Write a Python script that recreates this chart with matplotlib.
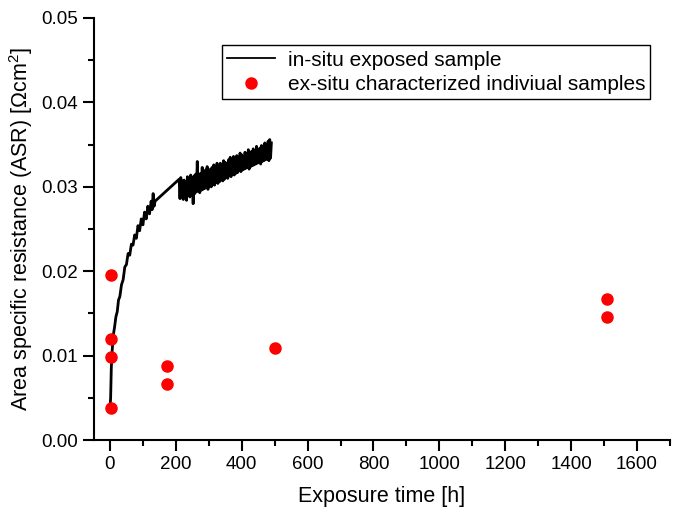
import numpy as np
import matplotlib
matplotlib.use("Agg")
import matplotlib.pyplot as plt

plt.rcParams['font.family'] = ['Liberation Sans', 'DejaVu Sans']
plt.rcParams['mathtext.fontset'] = 'custom'
plt.rcParams['mathtext.rm'] = 'Liberation Sans'
plt.rcParams['mathtext.it'] = 'Liberation Sans'

# ---- in-situ curve, early part (0-137 h) ----
t_early = [0, 2, 4, 6, 8, 10, 14, 18, 22, 26, 30, 35, 40, 45, 50, 55, 60, 65, 70,
           75, 80, 85, 90, 95, 100, 105, 110, 115, 120, 125, 128, 131, 134, 137]
asr_early = [0.0037, 0.0050, 0.0085, 0.0102, 0.0113, 0.0124, 0.0134, 0.0146, 0.0152,
             0.0166, 0.0170, 0.0184, 0.0190, 0.0205, 0.0208, 0.0221, 0.0219, 0.0232,
             0.0231, 0.0243, 0.0239, 0.0254, 0.0248, 0.0262, 0.0255, 0.0270, 0.0262,
             0.0277, 0.0268, 0.0283, 0.0273, 0.0292, 0.0277, 0.0283]

# ---- in-situ curve, later noisy part (210-490 h, logged every 2.5 h) ----
asr_late = [
    0.0309, 0.0286, 0.0311, 0.0287, 0.0307, 0.0285, 0.0308, 0.0289, 0.0306, 0.0284,
    0.0312, 0.0290, 0.0310, 0.0288, 0.0314, 0.0291, 0.0311, 0.0280, 0.0313, 0.0292,
    0.0315, 0.0294, 0.0330, 0.0295, 0.0314, 0.0293, 0.0316, 0.0296, 0.0323, 0.0297,
    0.0318, 0.0298, 0.0320, 0.0299, 0.0324, 0.0297, 0.0319, 0.0301, 0.0321, 0.0300,
    0.0323, 0.0303, 0.0326, 0.0302, 0.0322, 0.0305, 0.0328, 0.0304, 0.0324, 0.0306,
    0.0328, 0.0308, 0.0326, 0.0307, 0.0331, 0.0309, 0.0329, 0.0311, 0.0327, 0.0310,
    0.0332, 0.0313, 0.0335, 0.0312, 0.0331, 0.0315, 0.0336, 0.0314, 0.0333, 0.0316,
    0.0337, 0.0317, 0.0335, 0.0319, 0.0340, 0.0318, 0.0338, 0.0320, 0.0336, 0.0321,
    0.0341, 0.0322, 0.0339, 0.0323, 0.0344, 0.0321, 0.0340, 0.0324, 0.0342, 0.0325,
    0.0345, 0.0326, 0.0343, 0.0327, 0.0348, 0.0328, 0.0344, 0.0329, 0.0346, 0.0327,
    0.0349, 0.0330, 0.0347, 0.0331, 0.0352, 0.0332, 0.0348, 0.0333, 0.0354, 0.0331,
    0.0356, 0.0334, 0.0352]
t_late = 210 + 2.5 * np.arange(len(asr_late))

# ---- ex-situ samples ----
t_ex = [2, 2, 2, 2, 174, 174, 500, 1510, 1510]
asr_ex = [0.0196, 0.0120, 0.0099, 0.0038, 0.0088, 0.0066, 0.0109, 0.0167, 0.0146]

t_insitu = np.concatenate([t_early, t_late])
asr_insitu = np.concatenate([asr_early, asr_late])

fig = plt.figure(figsize=(6.85, 5.07), dpi=100)
ax = fig.add_axes([0.1365, 0.132, 0.8415, 0.8325])

ax.plot(t_insitu, asr_insitu, color='black', linewidth=2.0, label='in-situ exposed sample')
ax.plot(t_ex, asr_ex, linestyle='none', marker='o', color='red', markersize=8,
        label='ex-situ characterized indiviual samples')

ax.set_xlim(-50, 1700)
ax.set_ylim(0, 0.05)
ax.set_xticks(np.arange(0, 1601, 200))
ax.set_xticks(np.arange(0, 1701, 100), minor=True)
ax.set_yticks(np.arange(0, 0.0501, 0.01))
ax.set_yticks(np.arange(0, 0.0501, 0.005), minor=True)
ax.yaxis.set_major_formatter(matplotlib.ticker.FormatStrFormatter('%.2f'))

for s in ['top', 'right']:
    ax.spines[s].set_visible(False)
for s in ['left', 'bottom']:
    ax.spines[s].set_linewidth(1.5)
ax.tick_params(which='major', direction='out', length=8, width=1.5, labelsize=13.5)
ax.tick_params(which='minor', direction='out', length=4, width=1.5)

ax.set_xlabel('Exposure time [h]', fontsize=15.5, labelpad=9)
ax.set_ylabel('Area specific resistance (ASR) [$\\Omega$cm$^2$]', fontsize=15.5)

leg = ax.legend(loc='upper right', bbox_to_anchor=(0.966, 0.935), borderaxespad=0,
                fontsize=15, fancybox=False, edgecolor='black', framealpha=1,
                handlelength=2.3, handletextpad=0.6, labelspacing=0.25, borderpad=0.25)
leg.get_frame().set_linewidth(1.0)
leg.get_lines()[0].set_linewidth(1.3)

fig.savefig('out.png', dpi=100)
